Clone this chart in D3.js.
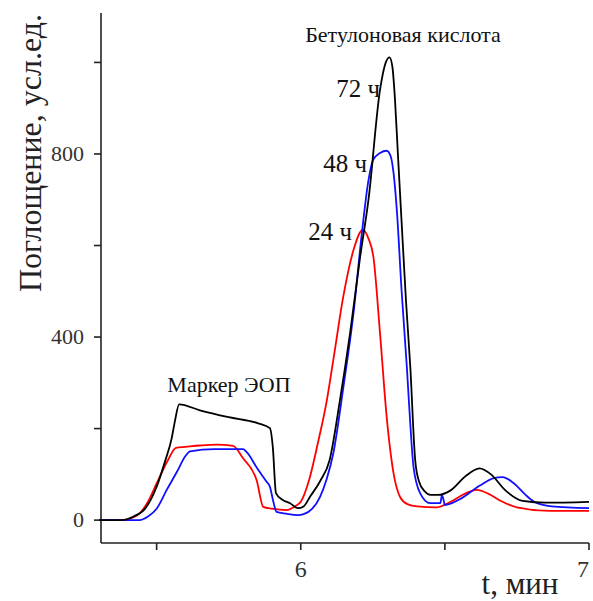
<!DOCTYPE html>
<html>
<head>
<meta charset="utf-8">
<script src="https://cdn.jsdelivr.net/npm/d3@7"></script>
<style>
  body { margin: 0; background: #fff; }
  text { font-family: "Liberation Serif", serif; }
</style>
</head>
<body>
<svg width="593" height="601"></svg>
<script>
// time, min / absorbance
var black72 = [[5.30,0],[5.38,0],[5.42,8],[5.46,25],[5.50,73],[5.53,130],[5.552,178],[5.564,218],[5.578,253],
  [5.65,240],[5.75,225],[5.85,212],[5.893,201],[5.903,160],[5.914,59],[5.935,45],[5.963,37],[5.99,26],[6.01,30],
  [6.032,51],[6.067,85],[6.10,131],[6.136,262],[6.171,408],[6.206,575],[6.235,700],[6.275,940],[6.295,1000],
  [6.308,1011],[6.318,990],[6.327,918],[6.337,800],[6.35,650],[6.365,480],[6.38,335],[6.397,131],[6.41,85],
  [6.43,63],[6.45,55],[6.475,55],[6.52,65],[6.57,95],[6.62,113],[6.66,100],[6.71,65],[6.77,42],[6.85,38],[7.0,40]];

var blue48 = [[5.30,0],[5.44,0],[5.47,8],[5.50,25],[5.535,66],[5.57,105],[5.60,140],[5.616,150],[5.70,155],
  [5.80,155],[5.812,149],[5.85,112],[5.88,85],[5.893,73],[5.905,40],[5.916,18],[5.95,14],[5.99,11],[6.01,13],
  [6.04,25],[6.067,51],[6.09,90],[6.113,146],[6.148,291],[6.183,452],[6.212,627],[6.235,743],[6.251,787],
  [6.275,802],[6.298,807],[6.312,795],[6.322,758],[6.333,680],[6.35,500],[6.368,335],[6.38,210],[6.391,117],
  [6.414,59],[6.449,37],[6.484,37],[6.49,55],[6.495,45],[6.50,33],[6.55,45],[6.62,75],[6.67,92],[6.70,94],
  [6.74,80],[6.78,55],[6.81,40],[6.87,30],[7.0,26]];

var red24 = [[5.30,0],[5.38,0],[5.41,4],[5.44,14],[5.47,40],[5.50,80],[5.54,132],[5.567,158],[5.60,160],
  [5.65,163],[5.708,165],[5.765,162],[5.80,135],[5.847,87],[5.87,29],[5.90,25],[5.951,22],[5.98,30],[6.0,40],
  [6.03,90],[6.06,170],[6.09,260],[6.113,350],[6.148,490],[6.183,590],[6.215,634],[6.235,615],[6.252,575],
  [6.275,408],[6.298,226],[6.322,102],[6.345,50],[6.37,35],[6.404,30],[6.472,28],[6.52,40],[6.57,58],
  [6.611,66],[6.65,58],[6.70,40],[6.75,28],[6.866,20],[7.0,20]];

var xMajor = [6, 7], xMinor = [5.5, 6.5];
var yMajor = [0, 400, 800], yMinor = [200, 600, 1000];

var serif = "Liberation Serif";

var svg = d3.select("svg"),
    margin = {top: 13, right: 4, bottom: 58, left: 101},
    width = +svg.attr("width") - margin.left - margin.right,
    height = +svg.attr("height") - margin.top - margin.bottom,
    g = svg.append("g").attr("transform", "translate(" + margin.left + "," + margin.top + ")");

var x = d3.scaleLinear().domain([5.307, 7.0]).range([0, width]);
var y = d3.scaleLinear().domain([-50, 1108]).range([height, 0]);

var line = d3.line()
    .x(function(d) { return x(d[0]); })
    .y(function(d) { return y(d[1]); })
    .curve(d3.curveMonotoneX);

// axes
var ax = g.append("g").attr("stroke", "#222").attr("stroke-width", 1.6);
ax.append("line").attr("x1", 0).attr("x2", 0).attr("y1", 0).attr("y2", height);
ax.append("line").attr("x1", 0).attr("x2", width).attr("y1", height).attr("y2", height);

ax.selectAll(".yt").data(yMajor.concat(yMinor)).enter().append("line")
    .attr("x1", -7).attr("x2", 0)
    .attr("y1", function(d) { return y(d); }).attr("y2", function(d) { return y(d); });
ax.selectAll(".xt").data(xMajor.concat(xMinor)).enter().append("line")
    .attr("y1", height).attr("y2", height + 7)
    .attr("x1", function(d) { return x(d); }).attr("x2", function(d) { return x(d); });

g.selectAll(".ylab").data(yMajor).enter().append("text")
    .attr("x", -17).attr("y", function(d) { return y(d); })
    .attr("dy", "0.33em").attr("text-anchor", "end")
    .attr("font-family", serif).attr("font-size", 22).attr("fill", "#333")
    .text(function(d) { return d; });

g.selectAll(".xlab").data(xMajor).enter().append("text")
    .attr("x", function(d) { return Math.min(x(d), width - 6); }).attr("y", height + 34)
    .attr("text-anchor", "middle")
    .attr("font-family", serif).attr("font-size", 24).attr("fill", "#333")
    .text(function(d) { return d; });

svg.append("text")
    .attr("transform", "translate(41,153) rotate(-90)")
    .attr("text-anchor", "middle")
    .attr("font-family", serif).attr("font-size", 32).attr("fill", "#222")
    .text("Поглощение, усл.ед.");

svg.append("text")
    .attr("x", 520).attr("y", 594)
    .attr("text-anchor", "middle")
    .attr("font-family", serif).attr("font-size", 31).attr("fill", "#222")
    .text("t, мин");

// curves
[[red24, "#ff0000"], [blue48, "#1010ff"], [black72, "#000"]].forEach(function(s) {
  g.append("path")
      .datum(s[0])
      .attr("fill", "none")
      .attr("stroke", s[1])
      .attr("stroke-width", 1.8)
      .attr("d", line);
});

// annotations
var notes = svg.append("g").attr("font-family", serif).attr("fill", "#111");
notes.append("text").attr("x", 403).attr("y", 42).attr("text-anchor", "middle")
    .attr("font-size", 22).text("Бетулоновая кислота");
notes.append("text").attr("x", 229).attr("y", 392).attr("text-anchor", "middle")
    .attr("font-size", 22).text("Маркер ЭОП");
notes.append("text").attr("x", 380).attr("y", 97).attr("text-anchor", "end")
    .attr("font-size", 25).text("72 ч");
notes.append("text").attr("x", 367).attr("y", 172).attr("text-anchor", "end")
    .attr("font-size", 25).text("48 ч");
notes.append("text").attr("x", 352).attr("y", 240).attr("text-anchor", "end")
    .attr("font-size", 25).text("24 ч");
</script>
</body>
</html>
